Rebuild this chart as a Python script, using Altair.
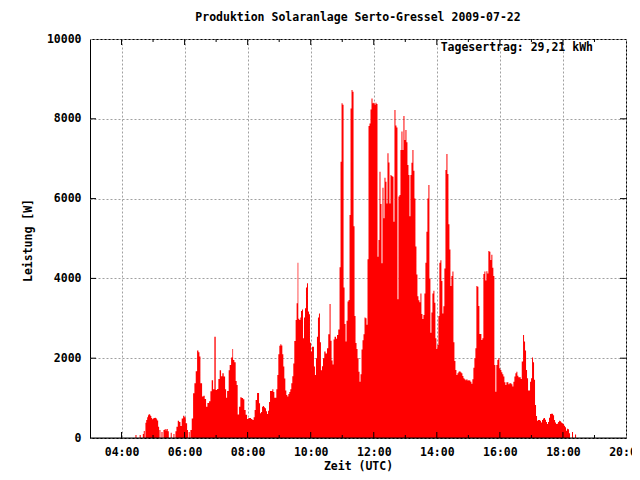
import altair as alt
import pandas as pd

# time of measurement (minutes after 00:00 UTC) and power in W
minutes = [
    266.5, 268.5, 274.5, 276.5, 280.5, 282.3, 284.2, 285.5, 287.0, 288.8,
    290.3, 291.8, 293.5, 295.1, 296.7, 298.3, 299.8, 301.3, 303.2, 305.1,
    306.5, 307.8, 309.7, 311.5, 312.2, 314.0, 316.0, 318.0, 319.8, 322.2,
    324.0, 325.5, 328.0, 330.0, 333.6, 335.5, 338.8, 340.7, 342.6, 344.5,
    347.0, 349.6, 352.1, 354.5, 357.2, 359.7, 362.2, 364.8, 366.5, 367.8,
    369.7, 371.1, 373.6, 376.2, 378.7, 381.2, 383.8, 386.3, 388.2, 390.1,
    393.3, 395.8, 398.3, 400.9, 403.4, 406.6, 409.1, 411.6, 414.2, 416.7,
    419.2, 421.8, 424.3, 426.8, 429.4, 431.9, 434.4, 437.1, 439.0, 440.9,
    443.9, 445.8, 448.5, 450.9, 452.3, 454.7, 457.2, 459.1, 461.0, 463.7,
    466.1, 468.6, 471.3, 473.7, 476.2, 478.9, 481.3, 483.8, 486.5, 489.0,
    491.4, 493.3, 495.2, 497.9, 500.4, 501.7, 503.6, 505.5, 507.4, 509.3,
    511.2, 513.1, 515.0, 516.9, 518.8, 520.7, 522.6, 525.1, 527.0, 528.9,
    530.8, 532.7, 534.6, 536.5, 538.4, 540.3, 542.2, 544.1, 546.0, 547.9,
    549.8, 551.7, 553.6, 555.5, 557.4, 559.3, 561.2, 563.1, 565.0, 566.9,
    568.8, 571.3, 573.2, 575.1, 576.4, 578.3, 580.2, 581.5, 583.4, 585.3,
    587.2, 589.1, 591.0, 592.9, 594.8, 596.7, 598.6, 600.5, 602.4, 604.3,
    606.2, 608.1, 610.0, 611.9, 613.8, 615.7, 617.6, 619.5, 621.4, 623.4,
    625.8, 628.3, 631.0, 633.4, 635.9, 637.8, 639.7, 641.6, 643.5, 645.4,
    648.1, 650.0, 652.4, 654.9, 656.8, 658.7, 660.6, 662.5, 664.4, 666.3,
    668.2, 670.1, 672.0, 673.9, 675.8, 677.7, 679.6, 681.5, 683.4, 685.3,
    687.2, 689.1, 691.0, 692.9, 694.8, 696.7, 698.6, 700.5, 702.4, 704.3,
    706.2, 708.1, 710.0, 711.9, 713.8, 715.7, 717.6, 719.5, 721.4, 723.3,
    725.2, 727.1, 729.0, 730.9, 732.8, 734.7, 736.6, 738.5, 740.4, 742.3,
    744.2, 746.1, 748.0, 749.9, 751.8, 753.7, 755.6, 757.5, 759.4, 761.3,
    763.2, 765.1, 767.0, 768.9, 770.8, 772.7, 774.6, 776.5, 778.4, 780.3,
    782.2, 784.1, 786.0, 787.9, 789.8, 791.7, 793.6, 795.5, 797.4, 799.3,
    801.2, 803.1, 805.0, 806.9, 808.8, 810.7, 812.6, 814.5, 816.4, 818.3,
    820.2, 822.1, 824.0, 825.9, 827.8, 829.7, 831.6, 833.5, 835.4, 837.3,
    839.2, 841.1, 843.0, 844.9, 846.8, 848.7, 850.6, 852.5, 854.4, 856.4,
    858.3, 860.2, 862.1, 864.0, 865.9, 867.8, 869.7, 871.6, 873.5, 875.4,
    877.3, 879.2, 881.1, 883.0, 884.9, 886.8, 888.7, 890.6, 892.5, 894.4,
    896.3, 898.2, 900.1, 902.0, 903.9, 905.8, 907.7, 909.6, 911.5, 913.4,
    915.3, 917.2, 919.1, 921.0, 922.9, 924.8, 926.7, 928.6, 930.5, 932.4,
    934.3, 936.2, 938.1, 940.0, 941.9, 943.8, 945.7, 947.6, 949.5, 951.4,
    953.3, 955.2, 957.1, 959.0, 960.9, 962.8, 964.7, 966.6, 968.6, 970.5,
    972.4, 974.3, 976.2, 978.1, 980.0, 981.9, 983.8, 985.7, 987.6, 989.5,
    991.4, 993.3, 995.2, 997.1, 999.7, 1001.6, 1004.1, 1006.0, 1007.9, 1009.8,
    1011.7, 1013.6, 1015.5, 1017.4, 1019.3, 1021.2, 1023.1, 1025.0, 1026.9, 1028.8,
    1030.7, 1032.6, 1034.5, 1036.4, 1038.3, 1040.2, 1042.1, 1044.0, 1045.9, 1047.8,
    1049.7, 1051.6, 1053.5, 1055.4, 1057.4, 1059.3, 1061.2, 1063.1, 1065.0, 1066.9,
    1068.8, 1070.7, 1072.6, 1074.5, 1076.4, 1078.3, 1080.2, 1082.1, 1084.0, 1085.9,
    1087.8, 1089.7, 1091.6, 1093.5, 1097.3, 1099.2, 1103.0, 1105.0,
]
watts = [
    75, 0, 75, 0, 100, 175, 0, 385, 450, 520,
    570, 600, 580, 550, 500, 470, 490, 500, 510, 500,
    470, 440, 285, 0, 200, 0, 150, 0, 200, 225,
    190, 225, 170, 0, 130, 0, 100, 0, 170, 285,
    430, 400, 300, 490, 560, 520, 370, 200, 0, 150,
    0, 200, 490, 1120, 1370, 1670, 2190, 2150, 2040, 1370,
    1040, 1060, 980, 785, 880, 920, 1170, 1450, 1220, 2540,
    1200, 1230, 1480, 1700, 1550, 1620, 1540, 1220, 1010, 1180,
    1700, 1830, 2020, 2230, 1955, 1900, 1430, 1330, 590, 785,
    1020, 1000, 970, 700, 580, 475, 500, 500, 475, 450,
    520, 700, 950, 1130, 1130, 870, 620, 650, 785, 800,
    770, 745, 670, 600, 680, 900, 1180, 1180, 1220, 1150,
    1010, 1010, 1220, 1580, 2100, 2310, 2350, 2320, 2100, 1790,
    1490, 1190, 1080, 1040, 1100, 1150, 1220, 1370, 1550, 1870,
    2430, 2960, 3380, 4390, 2990, 2960, 3020, 3180, 3220, 2500,
    3020, 3250, 3770, 3880, 3170, 3100, 2390, 2165, 2290, 2290,
    1790, 1580, 2000, 2540, 3020, 3120, 2400, 1700, 1800, 2000,
    2165, 2120, 2250, 2600, 3360, 2440, 1940, 1840, 2470, 2540,
    2490, 2580, 2720, 4280, 6925, 8390, 8350, 3775, 2860, 2420,
    2940, 3420, 3460, 5590, 8260, 8720, 8680, 5310, 3060, 2380,
    2230, 2000, 1660, 1410, 1600, 2220, 2450, 2600, 3020, 3000,
    2840, 4480, 7820, 7880, 8235, 8510, 8390, 8400, 8350, 8400,
    8370, 4545, 4960, 6675, 5865, 4380, 6275, 5505, 6525, 6420,
    5880, 7135, 6905, 5880, 6590, 6565, 6550, 5420, 8220, 7830,
    7780, 3475, 6050, 6090, 7215, 7680, 7215, 8070, 7470, 7720,
    7410, 6840, 6590, 5560, 6590, 6900, 7215, 6700, 6000, 4800,
    4100, 3550, 3450, 3400, 3620, 3105, 2980, 3080, 3620, 4390,
    5170, 6000, 6340, 4000, 2640, 3145, 3620, 3690, 3390, 2500,
    2230, 2330, 3060, 4390, 4455, 3935, 3120, 3300, 4250, 6715,
    7115, 6615, 5360, 4725, 3810, 4060, 4170, 2400, 1930, 1705,
    1580, 1620, 1660, 1670, 1650, 1620, 1555, 1495, 1470, 1450,
    1470, 1440, 1450, 1440, 1410, 1360, 1470, 1760, 2000, 2250,
    3810, 3790, 3310, 2605, 2605, 2455, 2500, 4110, 4170, 3945,
    4180, 4120, 4685, 4670, 4460, 4590, 4270, 4060, 1830, 1160,
    1830, 1955, 2000, 1750, 1705, 1650, 1600, 1540, 1400, 1330,
    1400, 1400, 1345, 1370, 1370, 1345, 1290, 1410, 1540, 1620,
    1660, 1560, 1520, 1520, 1480, 1915, 2580, 2420, 2190, 1705,
    1500, 1190, 1190, 1410, 1500, 2020, 1900, 1460, 830, 550,
    435, 450, 450, 430, 390, 450, 490, 500, 460, 400,
    350, 400, 510, 600, 610, 610, 570, 450, 390, 350,
    360, 400, 430, 420, 390, 370, 350, 310, 270, 180,
    230, 220, 120, 0, 150, 0, 90, 0,
]

x_label_hours = [4, 6, 8, 10, 12, 14, 16, 18, 20]
major_tick_hours = [4, 6, 8, 10, 12, 14, 16, 18]
minor_tick_hours = [5, 7, 9, 11, 13, 15, 17, 19]
y_label_values = [0, 2000, 4000, 6000, 8000, 10000]
y_tick_values = [2000, 4000, 6000, 8000]

TITLE = "Produktion Solaranlage Serto-Gressel 2009-07-22"
ANNOTATION = "Tagesertrag: 29,21 kWh"
X_TITLE = "Zeit (UTC)"
Y_TITLE = "Leistung [W]"

FONT = "DejaVu Sans Mono"
FS = 11.5
W, H = 536, 399

df = pd.DataFrame({"minute": minutes, "watt": watts})
df["hour"] = df["minute"] / 60.0

xscale = alt.Scale(domain=[3, 20], nice=False, zero=False)
yscale = alt.Scale(domain=[0, 10000], nice=False)

xaxis = alt.Axis(
    values=x_label_hours,
    labelExpr="(datum.value < 10 ? '0' : '') + datum.value + ':00'",
    grid=True, gridColor="#a0a0a0", gridDash=[2, 2], gridWidth=1,
    ticks=False, domain=False,
    labelFont=FONT, labelFontSize=FS, labelFontWeight="bold", labelColor="black",
    labelPadding=8, labelFlush=False, labelOverlap=False,
    title=X_TITLE, titleFont=FONT, titleFontSize=FS, titleFontWeight="bold",
    titleColor="black", titleX=268, titleY=28, titleBaseline="middle", titleAlign="center",
)
yaxis = alt.Axis(
    values=y_label_values, format="d",
    grid=True, gridColor="#a0a0a0", gridDash=[2, 2], gridWidth=1,
    ticks=False, domain=False,
    labelFont=FONT, labelFontSize=FS, labelFontWeight="bold", labelColor="black",
    labelPadding=9, labelFlush=False, labelOverlap=False, labelBaseline="middle",
    title=Y_TITLE, titleFont=FONT, titleFontSize=FS, titleFontWeight="bold",
    titleColor="black", titleX=-62, titleY=201, titleAngle=270,
    titleBaseline="middle", titleAlign="center",
)

X_ENC = alt.X("hour:Q", scale=xscale, axis=xaxis)
Y_ENC = alt.Y("watt:Q", scale=yscale, axis=yaxis)

area = alt.Chart(df).mark_area(interpolate="step-after", color="#ff0000").encode(
    x=X_ENC, y=Y_ENC,
)

major_df = pd.DataFrame({"hour": major_tick_hours})
minor_df = pd.DataFrame({"hour": minor_tick_hours})
ytick_df = pd.DataFrame({"watt": y_tick_values})

def xticks(data, y0, y1):
    return alt.Chart(data).mark_rule(color="black", strokeWidth=1).encode(
        x=X_ENC, y=alt.value(y0), y2=alt.value(y1),
    )

def yticks(x0, x1):
    return alt.Chart(ytick_df).mark_rule(color="black", strokeWidth=1).encode(
        y=Y_ENC, x=alt.value(x0), x2=alt.value(x1),
    )

tick_layers = [
    xticks(major_df, H, H - 6), xticks(major_df, 0, 6),
    xticks(minor_df, H, H - 3), xticks(minor_df, 0, 3),
    yticks(0, 6), yticks(W, W - 6),
]

baseline = alt.Chart(pd.DataFrame({"watt": [0]})).mark_rule(color="black", strokeWidth=1).encode(
    y=Y_ENC, x=alt.value(0), x2=alt.value(W),
)

title = alt.Chart(pd.DataFrame({"t": [TITLE]})).mark_text(
    font=FONT, fontSize=FS, fontWeight="bold", color="black", align="center", baseline="middle"
).encode(text="t:N", x=alt.value(W / 2), y=alt.value(-21))

annotation = alt.Chart(pd.DataFrame({"t": [ANNOTATION]})).mark_text(
    font=FONT, fontSize=FS, fontWeight="bold", color="black", align="right", baseline="middle"
).encode(text="t:N", x=alt.value(503), y=alt.value(9))

chart = alt.layer(area, *tick_layers, baseline, title, annotation).properties(
    width=W, height=H,
    autosize=alt.AutoSizeParams(type="none"),
    padding={"left": 82, "top": 31, "right": 6, "bottom": 34},
    background="white",
).configure_view(stroke="black", strokeWidth=1)

chart.save("out.html", embed_options={"renderer": "svg", "actions": False})
